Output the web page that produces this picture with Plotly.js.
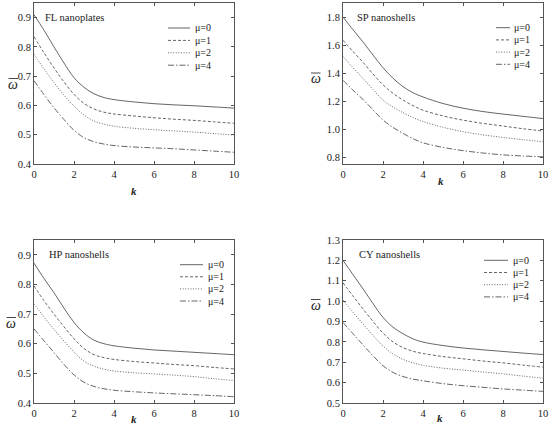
<!DOCTYPE html>
<html>
<head>
<meta charset="utf-8">
<script src="https://cdn.plot.ly/plotly-3.0.1.min.js"></script>
<style>html,body{margin:0;padding:0;background:#fff;}#chart{width:550px;height:434px;}</style>
</head>
<body>
<div id="chart"></div>
<script>
// ---- data ----
const k = [0, 0.5, 1, 1.5, 2, 2.5, 3, 3.5, 4, 5, 6, 7, 8, 9, 10];
const muLabels = ['μ=0', 'μ=1', 'μ=2', 'μ=4'];
const panelTitles = ['FL nanoplates', 'SP nanoshells', 'HP nanoshells', 'CY nanoshells'];

const flMu0 = [0.91, 0.857, 0.80, 0.745, 0.695, 0.662, 0.64, 0.627, 0.62, 0.612, 0.606, 0.602, 0.599, 0.595, 0.591];
const flMu1 = [0.835, 0.78, 0.728, 0.68, 0.638, 0.607, 0.588, 0.577, 0.571, 0.564, 0.558, 0.553, 0.549, 0.544, 0.539];
const flMu2 = [0.775, 0.725, 0.678, 0.635, 0.598, 0.567, 0.547, 0.536, 0.529, 0.522, 0.517, 0.513, 0.509, 0.504, 0.499];
const flMu4 = [0.685, 0.637, 0.592, 0.552, 0.515, 0.49, 0.476, 0.468, 0.463, 0.458, 0.455, 0.452, 0.448, 0.444, 0.44];

const spMu0 = [1.80, 1.71, 1.623, 1.53, 1.44, 1.365, 1.305, 1.262, 1.232, 1.185, 1.152, 1.128, 1.11, 1.094, 1.078];
const spMu1 = [1.635, 1.555, 1.478, 1.395, 1.318, 1.258, 1.21, 1.17, 1.138, 1.097, 1.067, 1.044, 1.025, 1.006, 0.99];
const spMu2 = [1.52, 1.44, 1.363, 1.285, 1.21, 1.16, 1.12, 1.085, 1.057, 1.016, 0.985, 0.962, 0.944, 0.928, 0.913];
const spMu4 = [1.35, 1.28, 1.214, 1.14, 1.068, 1.015, 0.973, 0.935, 0.906, 0.873, 0.85, 0.833, 0.82, 0.812, 0.806];

const hpMu0 = [0.872, 0.82, 0.772, 0.72, 0.672, 0.636, 0.612, 0.60, 0.593, 0.585, 0.579, 0.575, 0.571, 0.567, 0.563];
const hpMu1 = [0.795, 0.745, 0.70, 0.657, 0.617, 0.584, 0.563, 0.553, 0.547, 0.54, 0.535, 0.53, 0.526, 0.52, 0.515];
const hpMu2 = [0.735, 0.69, 0.648, 0.609, 0.572, 0.541, 0.524, 0.514, 0.508, 0.502, 0.498, 0.494, 0.489, 0.482, 0.476];
const hpMu4 = [0.65, 0.61, 0.57, 0.53, 0.495, 0.47, 0.456, 0.448, 0.443, 0.438, 0.434, 0.431, 0.428, 0.425, 0.421];

const cyMu0 = [1.20, 1.13, 1.06, 0.988, 0.92, 0.872, 0.84, 0.815, 0.799, 0.782, 0.77, 0.761, 0.753, 0.745, 0.738];
const cyMu1 = [1.09, 1.025, 0.962, 0.90, 0.843, 0.8, 0.772, 0.754, 0.743, 0.728, 0.717, 0.706, 0.697, 0.686, 0.676];
const cyMu2 = [1.005, 0.945, 0.888, 0.832, 0.78, 0.741, 0.714, 0.697, 0.685, 0.671, 0.662, 0.652, 0.643, 0.632, 0.622];
const cyMu4 = [0.895, 0.84, 0.785, 0.732, 0.683, 0.65, 0.63, 0.617, 0.609, 0.595, 0.585, 0.577, 0.569, 0.563, 0.557];

const xTicks = [0, 2, 4, 6, 8, 10];

// ---- styles / layout ----
const W = 550, H = 434;
const px = x => x / W;
const py = y => 1 - y / H;
const FONT = 'Liberation Serif';
const lineColor = '#555';
const dashes = ['solid', '3px,2px', '1px,1.6px', '6px,2px,1.5px,2px'];

const panels = [
  {series: [flMu0, flMu1, flMu2, flMu4], yr: [0.4, 0.95], dt: 0.1, box: [34, 234, 3, 164],
   title: [43, 17], ytitle: [13, 84], xtitle: [134, 191], leg: {x0: 168, x1: 190, tx: 193, y0: 28, dy: 12.4}},
  {series: [spMu0, spMu1, spMu2, spMu4], yr: [0.755, 1.9], dt: 0.2, box: [343, 543, 3, 164],
   title: [355, 17], ytitle: [315.5, 78.5], xtitle: [441, 181], leg: {x0: 496, x1: 510, tx: 512, y0: 27.7, dy: 12.2}},
  {series: [hpMu0, hpMu1, hpMu2, hpMu4], yr: [0.4, 0.95], dt: 0.1, box: [34, 234, 240, 403],
   title: [47, 255], ytitle: [11, 323], xtitle: [134, 419], leg: {x0: 180, x1: 203, tx: 206, y0: 264.7, dy: 12.1}},
  {series: [cyMu0, cyMu1, cyMu2, cyMu4], yr: [0.5, 1.3], dt: 0.1, box: [343, 543, 240, 403],
   title: [357, 255], ytitle: [315.5, 305], xtitle: [440, 418], leg: {x0: 484, x1: 508, tx: 511, y0: 260.3, dy: 12.2}}
];

const traces = [];
const layout = {
  width: W, height: H,
  margin: {l: 0, r: 0, t: 0, b: 0},
  paper_bgcolor: '#fff', plot_bgcolor: '#fff',
  showlegend: false,
  font: {family: FONT, size: 10, color: '#222'},
  annotations: [], shapes: []
};

panels.forEach((p, i) => {
  const n = i === 0 ? '' : String(i + 1);
  const xa = 'x' + n, ya = 'y' + n;
  p.series.forEach((vals, j) => {
    traces.push({
      x: k, y: vals, xaxis: xa, yaxis: ya, type: 'scatter', mode: 'lines',
      name: muLabels[j],
      line: {color: lineColor, width: 0.9, dash: dashes[j], shape: 'spline', smoothing: 1}
    });
  });
  const common = {
    showline: true, mirror: 'ticks', linecolor: '#555', linewidth: 1,
    ticks: 'inside', ticklen: 3, tickcolor: '#555', tickwidth: 1,
    showgrid: false, zeroline: false,
    tickfont: {family: FONT, size: 10.5, color: '#222'}
  };
  layout['xaxis' + n] = Object.assign({}, common, {
    domain: [px(p.box[0]), px(p.box[1])], range: [0, 10], anchor: ya,
    tickvals: xTicks, ticktext: xTicks.map(String)
  });
  layout['yaxis' + n] = Object.assign({}, common, {
    domain: [py(p.box[3]), py(p.box[2])], range: p.yr, anchor: xa,
    dtick: p.dt, tick0: 0, tickformat: '.1f'
  });
  // panel title
  layout.annotations.push({
    xref: 'paper', yref: 'paper', x: px(p.title[0]), y: py(p.title[1]),
    xanchor: 'left', yanchor: 'middle', showarrow: false,
    text: panelTitles[i], font: {family: FONT, size: 10.5, color: '#222'}
  });
  // y axis title: omega with an overbar
  layout.annotations.push({
    xref: 'paper', yref: 'paper', x: px(p.ytitle[0]), y: py(p.ytitle[1]),
    xanchor: 'center', yanchor: 'middle', showarrow: false,
    text: '<i>\u03C9</i>', font: {family: FONT, size: 14, color: '#222'}
  });
  layout.shapes.push({
    type: 'line', xref: 'paper', yref: 'paper',
    x0: px(p.ytitle[0] - 4.5), x1: px(p.ytitle[0] + 5), y0: py(p.ytitle[1] - 5.5), y1: py(p.ytitle[1] - 5.5),
    line: {color: '#333', width: 0.9}
  });
  // x axis title
  layout.annotations.push({
    xref: 'paper', yref: 'paper', x: px(p.xtitle[0]), y: py(p.xtitle[1]),
    xanchor: 'center', yanchor: 'middle', showarrow: false,
    text: '<b><i>k</i></b>', font: {family: FONT, size: 11, color: '#222'}
  });
  // legend
  muLabels.forEach((lab, j) => {
    const yy = p.leg.y0 + j * p.leg.dy;
    layout.shapes.push({
      type: 'line', xref: 'paper', yref: 'paper',
      x0: px(p.leg.x0), x1: px(p.leg.x1), y0: py(yy), y1: py(yy),
      line: {color: lineColor, width: 0.9, dash: dashes[j]}
    });
    layout.annotations.push({
      xref: 'paper', yref: 'paper', x: px(p.leg.tx), y: py(yy),
      xanchor: 'left', yanchor: 'middle', showarrow: false,
      text: lab, font: {family: FONT, size: 10, color: '#222'}
    });
  });
});

Plotly.newPlot('chart', traces, layout, {staticPlot: true, displayModeBar: false});
</script>
</body>
</html>
